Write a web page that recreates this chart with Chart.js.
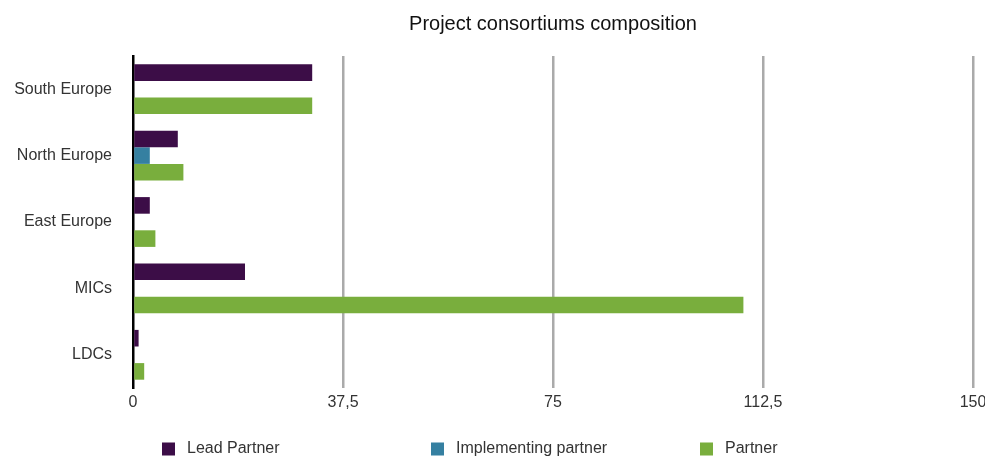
<!DOCTYPE html>
<html>
<head>
<meta charset="utf-8">
<script src="https://cdn.jsdelivr.net/npm/chart.js@4/dist/chart.umd.min.js"></script>
<style>
    html, body { margin: 0; padding: 0; background: #fff; }
    #wrap { width: 985px; height: 457px; }
</style>
</head>
<body>
<div id="wrap"><canvas id="consortium-chart"></canvas></div>
<script>
const regions = ['South Europe', 'North Europe', 'East Europe', 'MICs', 'LDCs'];
const leadPartner = [32, 8, 3, 20, 1];
const implementingPartner = [0, 3, 0, 0, 0];
const partner = [32, 9, 4, 109, 2];
const xTicks = [0, 37.5, 75, 112.5, 150];

const seriesNames = ['Lead Partner', 'Implementing partner', 'Partner'];
const seriesColors = ['#3c0d47', '#3580a1', '#79ae3d'];

// legend spread out in columns under the plot, like the original
const spreadLegend = {
    id: 'spreadLegend',
    afterDraw(chart) {
        const ctx = chart.ctx;
        const left = chart.chartArea.left;
        ctx.save();
        ctx.font = '16px "Liberation Sans", Arial, sans-serif';
        ctx.textBaseline = 'middle';
        chart.data.datasets.forEach(function (ds, i) {
            const x = left + 29 + i * 269;
            const y = 449;
            ctx.fillStyle = ds.backgroundColor;
            ctx.fillRect(x, y - 6.5, 13, 13);
            ctx.fillStyle = '#333333';
            ctx.fillText(ds.label, x + 25, y);
        });
        ctx.restore();
    }
};

const consortiumChart = new Chart(document.getElementById('consortium-chart'), {
    type: 'bar',
    data: {
        labels: regions,
        datasets: [
            { label: seriesNames[0], data: leadPartner, backgroundColor: seriesColors[0] },
            { label: seriesNames[1], data: implementingPartner, backgroundColor: seriesColors[1] },
            { label: seriesNames[2], data: partner, backgroundColor: seriesColors[2] }
        ]
    },
    options: {
        indexAxis: 'y',
        responsive: true,
        maintainAspectRatio: false,
        animation: false,
        categoryPercentage: 0.75,
        barPercentage: 1.0,
        layout: {
            padding: { top: 0, left: 0, right: 12, bottom: 39 }
        },
        plugins: {
            legend: { display: false },
            tooltip: { enabled: false },
            title: {
                display: true,
                fullSize: false,
                text: 'Project consortiums composition',
                color: '#111111',
                font: { family: '"Liberation Sans", Arial, sans-serif', size: 20, weight: 'normal' },
                padding: { top: 12, bottom: 20 }
            }
        },
        scales: {
            x: {
                min: 0,
                max: 150,
                afterBuildTicks: function (scale) {
                    scale.ticks = xTicks.map(v => ({ value: v }));
                },
                afterFit: function (scale) {
                    scale.height = 30;
                    scale.paddingLeft = 0;
                    scale.paddingRight = 0;
                },
                ticks: {
                    padding: 5,
                    color: '#333333',
                    font: { family: '"Liberation Sans", Arial, sans-serif', size: 16 },
                    maxRotation: 0,
                    callback: function (value) {
                        return String(value).replace('.', ',');
                    }
                },
                grid: {
                    drawTicks: false,
                    lineWidth: 2.5,
                    color: function (c) {
                        return c.index === 0 ? 'rgba(0,0,0,0)' : '#aaaaaa';
                    }
                },
                border: { display: false }
            },
            y: {
                afterFit: function (scale) {
                    scale.width = 133;
                },
                ticks: {
                    padding: 21,
                    color: '#333333',
                    font: { family: '"Liberation Sans", Arial, sans-serif', size: 16 }
                },
                grid: { display: false, drawTicks: false },
                border: { display: true, color: '#000000', width: 2.5 }
            }
        }
    },
    plugins: [spreadLegend]
});
</script>
</body>
</html>
